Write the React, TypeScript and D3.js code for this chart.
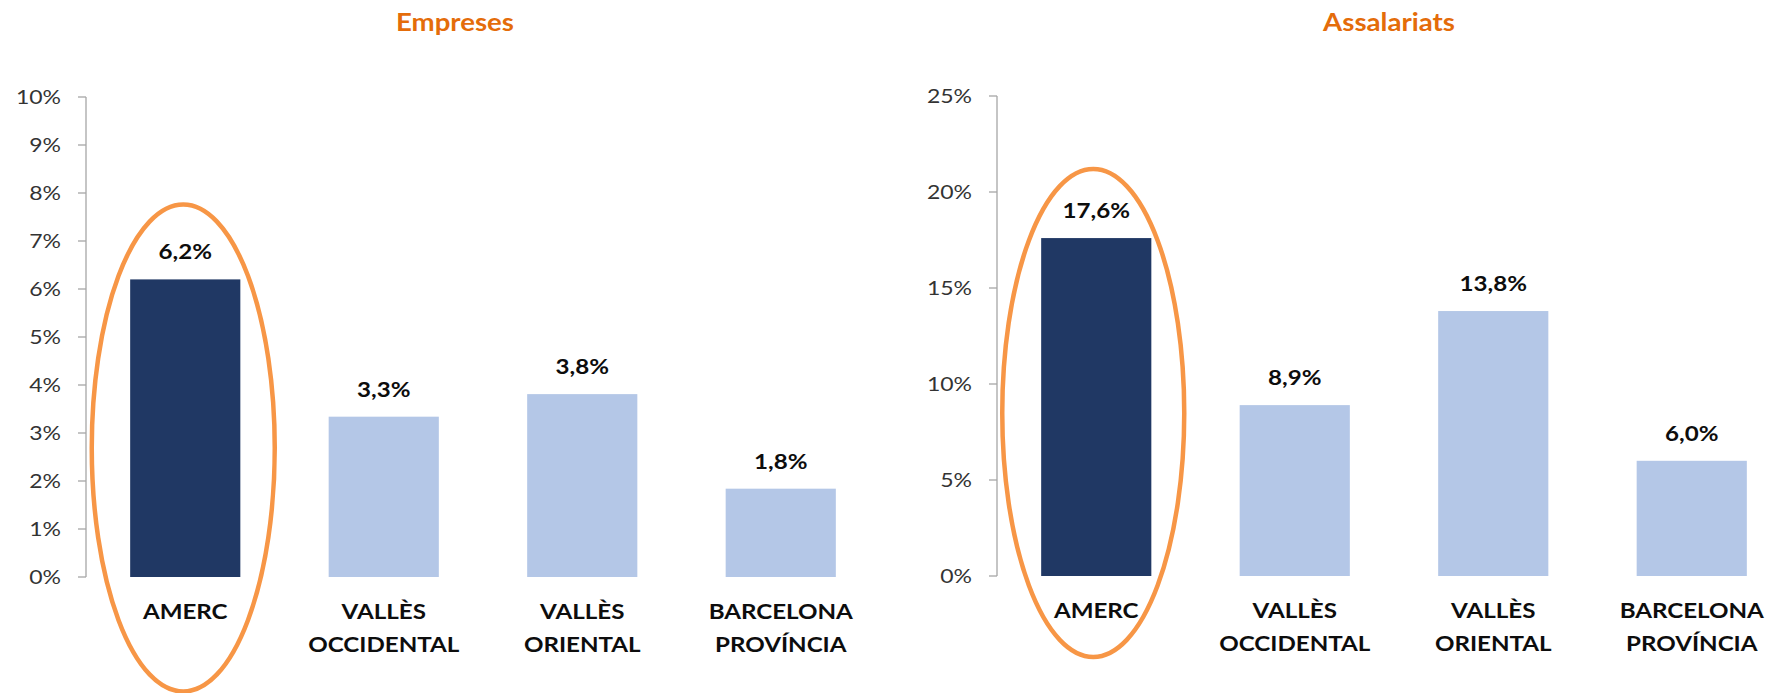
import React from 'react';
import * as d3 from 'd3';

// categories (two lines each on the x axis)
const categories: string[][] = [
  ['AMERC'],
  ['VALLÈS', 'OCCIDENTAL'],
  ['VALLÈS', 'ORIENTAL'],
  ['BARCELONA', 'PROVÍNCIA'],
];

// % values
const empresesValues = [6.2, 3.34, 3.81, 1.84];
const assalariatsValues = [17.6, 8.9, 13.8, 6.0];

const empresesTicks = [0, 1, 2, 3, 4, 5, 6, 7, 8, 9, 10];
const assalariatsTicks = [0, 5, 10, 15, 20, 25];

const DARK = '#203864';
const LIGHT = '#B4C7E7';
const ORANGE = '#F79646';
const TITLE = '#E46C0A';
const FONT = 'Lato, "Open Sans", sans-serif';
const SX = 1.15; // the source is a bit wide, stretch text to match

interface PanelProps {
  title: string;
  titleX: number;
  values: number[];
  ticks: number[];
  axisX: number;
  yTop: number;
  yZero: number;
  xEnd: number;
  ellipse: { dx: number; cy: number; rx: number; ry: number };
}

const T: React.FC<{ x: number; y: number; children: React.ReactNode } & React.SVGProps<SVGTextElement>> = ({ x, y, children, ...rest }) => (
  <text transform={`translate(${x},${y}) scale(${SX},1)`} {...rest}>
    {children}
  </text>
);

const Panel: React.FC<PanelProps> = ({ title, titleX, values, ticks, axisX, yTop, yZero, xEnd, ellipse }) => {
  const names = categories.map((c) => c.join(' '));
  const x = d3.scaleBand<string>().domain(names).range([axisX, xEnd]).paddingInner(0.445).paddingOuter(0.2225);
  const y = d3.scaleLinear().domain([0, ticks[ticks.length - 1]]).range([yZero, yTop]);
  const fmt = (v: number) => d3.format('.1f')(v).replace('.', ',') + '%';
  const bw = x.bandwidth();

  return (
    <g fontFamily={FONT}>
      <T x={titleX} y={31} textAnchor="middle" fontSize={24} fontWeight={700} fill={TITLE}>
        {title}
      </T>
      {/* axis */}
      <line x1={axisX} x2={axisX} y1={y(ticks[ticks.length - 1])} y2={yZero} stroke="#A6A6A6" strokeWidth={1.3} />
      {ticks.map((t) => (
        <g key={t}>
          <line x1={axisX - 8} x2={axisX} y1={y(t)} y2={y(t)} stroke="#A6A6A6" strokeWidth={1.3} />
          <T x={axisX - 25} y={y(t) + 7} textAnchor="end" fontSize={20} fill="#333333">
            {t + '%'}
          </T>
        </g>
      ))}
      {values.map((v, i) => (
        <g key={names[i]}>
          <rect x={x(names[i])} y={y(v)} width={bw} height={yZero - y(v)} fill={i === 0 ? DARK : LIGHT} />
          <T x={x(names[i])! + bw / 2} y={y(v) - 20} textAnchor="middle" fontSize={21} fontWeight={700} fill="#0D0D0D">
            {fmt(v)}
          </T>
          {categories[i].map((line, j) => (
            <T key={j} x={x(names[i])! + bw / 2} y={yZero + 42 + j * 33} textAnchor="middle" fontSize={21} fontWeight={700} fill="#0D0D0D">
              {line}
            </T>
          ))}
        </g>
      ))}
      <ellipse
        cx={x(names[0])! + bw / 2 + ellipse.dx}
        cy={ellipse.cy}
        rx={ellipse.rx}
        ry={ellipse.ry}
        fill="none"
        stroke={ORANGE}
        strokeWidth={4.5}
      />
    </g>
  );
};

export default function App() {
  return (
    <svg width={1776} height={693} style={{ position: 'absolute', left: 0, top: 0, background: '#fff' }}>
      <rect width={1776} height={693} fill="#fff" />
      <Panel
        title="Empreses"
        titleX={455}
        values={empresesValues}
        ticks={empresesTicks}
        axisX={86}
        yTop={97}
        yZero={577}
        xEnd={880}
        ellipse={{ dx: -2, cy: 448, rx: 91.5, ry: 243.5 }}
      />
      <Panel
        title="Assalariats"
        titleX={1389}
        values={assalariatsValues}
        ticks={assalariatsTicks}
        axisX={997}
        yTop={96}
        yZero={576}
        xEnd={1791}
        ellipse={{ dx: -3, cy: 413, rx: 91, ry: 244 }}
      />
    </svg>
  );
}
